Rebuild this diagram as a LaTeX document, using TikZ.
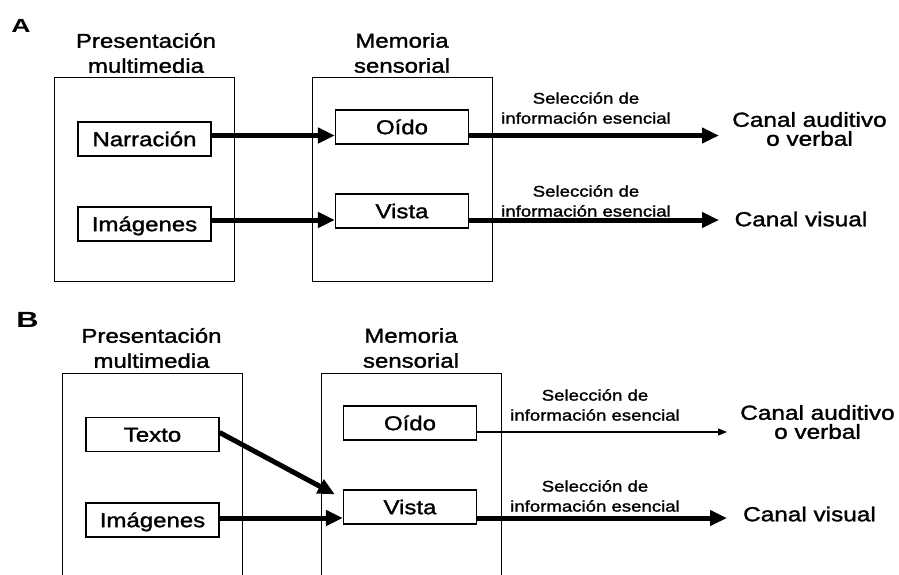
\documentclass[tikz,border=0pt]{standalone}
\usepackage{fontspec}
\usepackage{tikz}
\usetikzlibrary{arrows.meta}
\newfontfamily\diagfont[FakeStretch=1.2, FakeBold=1.5]{Liberation Sans}
\newfontfamily\tagfont[FakeStretch=1.4]{Liberation Sans Bold}

\begin{document}
\begin{tikzpicture}[x=1pt, y=-1pt,
  every node/.style={inner sep=0pt},
  head/.style={font=\diagfont\fontsize{20}{25}\selectfont, align=center},
  frame/.style={draw, line width=1pt, minimum width=180pt},
  unit/.style={draw, line width=1.2pt, minimum width=133pt, minimum height=34pt,
    text height=14.3pt, text depth=0pt, font=\diagfont\fontsize{20}{24}\selectfont},
  sel/.style={font=\diagfont\fontsize{15.5}{20}\selectfont, align=center},
  chan/.style={font=\diagfont\fontsize{20.3}{19}\selectfont, align=center},
  flow/.style={line width=5pt, -{Triangle[length=17pt,width=15pt]}},
  weak/.style={line width=1.3pt, -{Triangle[length=9pt,width=7pt]}}
]
\useasboundingbox (0,0) rectangle (899,574);

% panel A
\node (lblA) at (21, 25.5) [font=\tagfont\fontsize{19}{19}\selectfont] {A};
\node (presA) at (146, 53) [head] {Presentación\\multimedia};
\node (memA)  at (402, 53) [head] {Memoria\\sensorial};
\node (boxA1) at (144, 179) [frame, minimum height=204pt] {};
\node (boxA2) at (402.5, 179) [frame, minimum height=204pt] {};
\node (narrA)  at (144.5, 139) [unit] {Narración};
\node (imgA)   at (144.5, 224) [unit] {Imágenes};
\node (oidoA)  at (402, 127) [unit] {Oído};
\node (vistaA) at (402, 211) [unit] {Vista};
\node (selA1) at (586, 108) [sel] {Selección de\\información esencial};
\node (selA2) at (586, 201) [sel] {Selección de\\información esencial};
\node (audA) at (809.5, 129) [chan] {Canal auditivo\\o verbal};
\node (visA) at (801, 219) [chan] {Canal visual};
\coordinate (outA1) at (719, 135.5);
\coordinate (outA2) at (719, 220);
\path ([yshift=3.5pt]narrA.east) edge[flow] ([yshift=-8.5pt]oidoA.west);
\path ([yshift=4pt]imgA.east) edge[flow] ([yshift=-9pt]vistaA.west);
\path ([yshift=-8.5pt]oidoA.east) edge[flow] (outA1);
\path ([yshift=-9pt]vistaA.east) edge[flow] (outA2);

% panel B
\node (lblB) at (27.5, 320) [font=\tagfont\fontsize{22}{22}\selectfont] {B};
\node (presB) at (151.5, 348) [head] {Presentación\\multimedia};
\node (memB)  at (411, 348) [head] {Memoria\\sensorial};
\node (boxB1) at (152, 496.5) [frame, minimum height=247pt] {};
\node (boxB2) at (411, 496.5) [frame, minimum height=247pt] {};
\node (textoB) at (152.5, 434.5) [unit] {Texto};
\node (imgB)   at (152.5, 520) [unit] {Imágenes};
\node (oidoB)  at (410, 423) [unit] {Oído};
\node (vistaB) at (410, 507) [unit] {Vista};
\node (selB1) at (595, 405) [sel] {Selección de\\información esencial};
\node (selB2) at (595, 496) [sel] {Selección de\\información esencial};
\node (audB) at (817.5, 422) [chan] {Canal auditivo\\o verbal};
\node (visB) at (809.5, 514) [chan] {Canal visual};
\coordinate (outB1) at (727, 432);
\coordinate (outB2) at (727, 518);
\path ([yshift=2pt]textoB.east) edge[flow] ([xshift=-8pt,yshift=-5pt]vistaB.north west);
\path ([yshift=2pt]imgB.east) edge[flow] ([yshift=-11pt]vistaB.west);
\path ([yshift=-9pt]oidoB.east) edge[weak] (outB1);
\path ([yshift=-11pt]vistaB.east) edge[flow] (outB2);
\end{tikzpicture}
\end{document}
